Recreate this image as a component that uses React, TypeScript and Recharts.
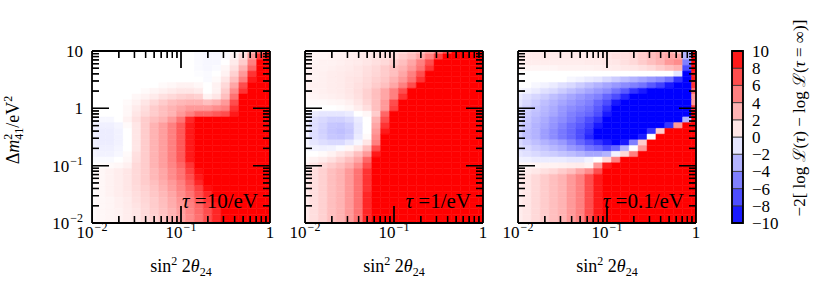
import React from "react";
import { ScatterChart, Scatter, XAxis, YAxis, ReferenceArea } from "recharts";

// log10 of the cell centres (cells are 0.1 decade wide, clipped at the frame)
const sin2Exp = [-2, -1.9, -1.8, -1.7, -1.6, -1.5, -1.4, -1.3, -1.2, -1.1, -1, -0.9, -0.8, -0.7, -0.6, -0.5, -0.4, -0.3, -0.2, -0.1, 0];
const dm2Exp = [1, 0.9, 0.8, 0.7, 0.6, 0.5, 0.4, 0.3, 0.2, 0.1, 0, -0.1, -0.2, -0.3, -0.4, -0.5, -0.6, -0.7, -0.8, -0.9, -1, -1.1, -1.2, -1.3, -1.4, -1.5, -1.6, -1.7, -1.8, -1.9, -2];

const xTicks = [0.01, 0.02, 0.03, 0.04, 0.05, 0.06, 0.07, 0.08, 0.09, 0.1, 0.2, 0.3, 0.4, 0.5, 0.6, 0.7, 0.8, 0.9, 1];
const yTicks = [0.01, 0.02, 0.03, 0.04, 0.05, 0.06, 0.07, 0.08, 0.09, 0.1, 0.2, 0.3, 0.4, 0.5, 0.6, 0.7, 0.8, 0.9, 1, 2, 3, 4, 5, 6, 7, 8, 9, 10];
const cbTicks = [10, 8, 6, 4, 2, 0, -2, -4, -6, -8, -10];
const cbEdges = [-10, -8, -6, -4, -2, 0, 2, 4, 6, 8, 10];

// -2[log L(tau) - log L(inf)], rows from dm2 = 10 (top) down to 0.01
const tau10 = [
  [0, 0, 0, 0, 0, 0, 0, 0, 0, 0, 0, 0, -0.2, -0.3, -0.3, -0.2, 0.3, 1, 3, 6, 9],
  [0, 0, 0, 0, 0, 0, 0, 0, 0, 0, 0, 0, -0.2, -0.3, -0.3, -0.2, 0.5, 1.5, 4, 8, 10],
  [0, 0, 0, 0, 0, 0, 0, 0, 0, 0, 0, 0, -0.2, -0.3, -0.3, 0, 0.8, 2, 5, 10, 10],
  [0, 0, 0, 0, 0, 0, 0, 0, 0, 0, 0, 0, -0.2, -0.3, -0.2, 0.3, 1.2, 3, 6, 10, 10],
  [0, 0, 0, 0, 0, 0, 0, 0, 0, 0, 0, 0, -0.1, -0.2, 0, 0.5, 1.8, 4, 8, 10, 10],
  [0, 0, 0, 0, 0, 0, 0, 0, 0, 0, 0, 0, 0, -0.2, 0.2, 1, 2.5, 5, 9, 10, 10],
  [0, 0, 0, 0, 0, 0, 0, 0, 0.2, 0.3, 0.5, 0.5, 0.3, 0, 0.5, 1.5, 3.5, 7, 10, 10, 10],
  [0, 0, 0, 0, 0, 0, 0.2, 0.4, 0.6, 0.8, 1, 1, 0.8, 0, 0.5, 2, 4.5, 8, 10, 10, 10],
  [0, 0, 0, 0, 0, 0.3, 0.5, 0.8, 1.2, 1.5, 1.8, 2, 1.8, 0.5, 1, 2.5, 5.5, 10, 10, 10, 10],
  [0, 0, 0, 0, 0.2, 0.5, 1, 1.5, 2, 2.5, 2.8, 3, 3, 2.5, 3, 4, 7, 10, 10, 10, 10],
  [0, 0, 0, 0, 0.3, 0.8, 1.3, 2, 2.5, 3, 3.5, 4, 4, 4, 4.5, 5, 8, 10, 10, 10, 10],
  [0, 0, 0, 0, 0.3, 1, 1.5, 2, 2.5, 3, 4, 5, 6, 6, 6.5, 7, 9, 10, 10, 10, 10],
  [-0.3, -0.3, -0.3, 0, 0.5, 1.2, 2, 2.5, 3, 4, 5.5, 8.5, 10, 10, 10, 10, 10, 10, 10, 10, 10],
  [-0.5, -0.6, -0.6, -0.4, 0.2, 1, 2, 3, 3.8, 5, 6.5, 9, 10, 10, 10, 10, 10, 10, 10, 10, 10],
  [-0.6, -0.7, -0.7, -0.5, 0, 1, 2, 3, 3.8, 5, 6.5, 9, 10, 10, 10, 10, 10, 10, 10, 10, 10],
  [-0.6, -0.7, -0.7, -0.5, 0, 1, 2, 3, 3.8, 5, 6.5, 9, 10, 10, 10, 10, 10, 10, 10, 10, 10],
  [-0.6, -0.7, -0.7, -0.5, 0, 1, 2, 3, 3.8, 5, 6.5, 9, 10, 10, 10, 10, 10, 10, 10, 10, 10],
  [-0.5, -0.6, -0.6, -0.4, 0, 1, 2, 3, 3.8, 5, 6.5, 9, 10, 10, 10, 10, 10, 10, 10, 10, 10],
  [-0.4, -0.5, -0.5, -0.3, 0.2, 1.2, 2, 3, 3.8, 5, 6.5, 9, 10, 10, 10, 10, 10, 10, 10, 10, 10],
  [-0.2, -0.2, -0.2, 0, 0.3, 1.3, 2, 3, 3.8, 5, 6.5, 9, 10, 10, 10, 10, 10, 10, 10, 10, 10],
  [0, 0.1, 0.2, 0.3, 0.6, 1.5, 2, 3, 3.8, 4.8, 6, 8, 10, 10, 10, 10, 10, 10, 10, 10, 10],
  [0.2, 0.3, 0.5, 0.7, 1, 1.5, 2, 2.8, 3.5, 4.5, 5.5, 7.5, 9.5, 10, 10, 10, 10, 10, 10, 10, 10],
  [0.2, 0.3, 0.5, 0.7, 1, 1.5, 2, 2.8, 3.5, 4.5, 5.5, 7, 9, 10, 10, 10, 10, 10, 10, 10, 10],
  [0.2, 0.3, 0.5, 0.7, 1, 1.5, 2, 2.5, 3.2, 4, 5, 6.5, 8.5, 10, 10, 10, 10, 10, 10, 10, 10],
  [0.2, 0.3, 0.5, 0.7, 1, 1.4, 1.8, 2.3, 3, 3.8, 4.8, 6, 7.5, 9.5, 10, 10, 10, 10, 10, 10, 10],
  [0.2, 0.3, 0.5, 0.7, 0.9, 1.3, 1.7, 2.2, 2.8, 3.5, 4.5, 5.5, 7, 8.5, 10, 10, 10, 10, 10, 10, 10],
  [0.2, 0.3, 0.4, 0.6, 0.8, 1.2, 1.6, 2, 2.6, 3.3, 4.2, 5.2, 6.5, 8, 9.5, 10, 10, 10, 10, 10, 10],
  [0.2, 0.3, 0.4, 0.6, 0.8, 1.1, 1.5, 2, 2.5, 3.2, 4, 5, 6, 7.5, 9, 10, 10, 10, 10, 10, 10],
  [0.2, 0.3, 0.4, 0.5, 0.7, 1, 1.4, 1.9, 2.4, 3, 3.8, 4.8, 5.8, 7, 8.5, 10, 10, 10, 10, 10, 10],
  [0.2, 0.3, 0.4, 0.5, 0.7, 1, 1.4, 1.8, 2.3, 3, 3.7, 4.6, 5.6, 7, 8.5, 10, 10, 10, 10, 10, 10],
  [0.2, 0.3, 0.4, 0.5, 0.7, 1, 1.4, 1.8, 2.3, 3, 3.7, 4.6, 5.6, 7, 8.5, 10, 10, 10, 10, 10, 10],
];

const tau1 = [
  [0.3, 0.3, 0.4, 0.4, 0.5, 0.5, 0.6, 0.7, 0.8, 1, 1.2, 1.5, 2, 2.5, 3.5, 5, 7, 10, 10, 10, 10],
  [0.3, 0.4, 0.4, 0.5, 0.5, 0.6, 0.7, 0.8, 1, 1.2, 1.5, 2, 2.5, 3.5, 5, 7.5, 10, 10, 10, 10, 10],
  [0.4, 0.4, 0.5, 0.5, 0.6, 0.7, 0.8, 1, 1.2, 1.5, 2, 2.5, 3.5, 5, 7, 10, 10, 10, 10, 10, 10],
  [0.4, 0.5, 0.5, 0.6, 0.7, 0.8, 1, 1.2, 1.5, 2, 2.5, 3, 4, 5.5, 8, 10, 10, 10, 10, 10, 10],
  [0.5, 0.5, 0.6, 0.7, 0.8, 0.9, 1, 1.3, 1.6, 2, 2.5, 3.5, 5, 7, 10, 10, 10, 10, 10, 10, 10],
  [0.5, 0.5, 0.6, 0.7, 0.8, 1, 1.1, 1.4, 1.8, 2.2, 3, 4, 5.5, 8, 10, 10, 10, 10, 10, 10, 10],
  [0.5, 0.6, 0.6, 0.7, 0.8, 1, 1.2, 1.5, 2, 2.5, 3.5, 5, 7, 10, 10, 10, 10, 10, 10, 10, 10],
  [0.4, 0.5, 0.6, 0.7, 0.8, 1, 1.3, 1.8, 2.5, 3.5, 5, 7, 10, 10, 10, 10, 10, 10, 10, 10, 10],
  [0.3, 0.4, 0.5, 0.6, 0.7, 0.9, 1.2, 1.8, 2.5, 3.5, 5, 8, 10, 10, 10, 10, 10, 10, 10, 10, 10],
  [0.1, 0.2, 0.2, 0.3, 0.4, 0.6, 1, 1.6, 2.5, 4, 7, 10, 10, 10, 10, 10, 10, 10, 10, 10, 10],
  [0, 0, 0, 0, 0.1, 0.3, 0.7, 1.3, 2.5, 4, 7.5, 10, 10, 10, 10, 10, 10, 10, 10, 10, 10],
  [-0.3, -0.8, -1, -1, -1, -0.8, 0, 0.3, 2, 6, 10, 10, 10, 10, 10, 10, 10, 10, 10, 10, 10],
  [-0.5, -1.2, -1.5, -1.8, -1.8, -1.5, -0.8, 0, 3, 7, 10, 10, 10, 10, 10, 10, 10, 10, 10, 10, 10],
  [-0.5, -1.3, -1.7, -2.2, -2.3, -2, -1, 0, 3.5, 8, 10, 10, 10, 10, 10, 10, 10, 10, 10, 10, 10],
  [-0.5, -1.3, -1.8, -2.3, -2.5, -2.2, -1, 0, 4, 9, 10, 10, 10, 10, 10, 10, 10, 10, 10, 10, 10],
  [-0.5, -1.3, -1.7, -2.2, -2.3, -2, -0.8, 0.2, 4.5, 10, 10, 10, 10, 10, 10, 10, 10, 10, 10, 10, 10],
  [-0.4, -1, -1.3, -1.5, -1.5, -1, -0.3, 1, 5, 10, 10, 10, 10, 10, 10, 10, 10, 10, 10, 10, 10],
  [-0.2, -0.5, -0.6, -0.5, -0.2, 0.3, 1, 2.5, 7, 10, 10, 10, 10, 10, 10, 10, 10, 10, 10, 10, 10],
  [0, 0, 0.2, 0.5, 1, 1.5, 2.5, 4, 9, 10, 10, 10, 10, 10, 10, 10, 10, 10, 10, 10, 10],
  [0.2, 0.5, 0.8, 1.2, 1.8, 2.5, 3.5, 6, 10, 10, 10, 10, 10, 10, 10, 10, 10, 10, 10, 10, 10],
  [0.6, 1, 1.5, 2, 2.5, 3.2, 4.5, 7, 10, 10, 10, 10, 10, 10, 10, 10, 10, 10, 10, 10, 10],
  [0.8, 1.3, 1.8, 2.5, 3, 4, 5.5, 8, 10, 10, 10, 10, 10, 10, 10, 10, 10, 10, 10, 10, 10],
  [0.8, 1.3, 1.8, 2.5, 3, 4, 5.5, 8, 10, 10, 10, 10, 10, 10, 10, 10, 10, 10, 10, 10, 10],
  [0.8, 1.3, 1.8, 2.5, 3, 4, 5.5, 8, 10, 10, 10, 10, 10, 10, 10, 10, 10, 10, 10, 10, 10],
  [0.8, 1.3, 1.8, 2.5, 3, 4, 5.5, 8, 10, 10, 10, 10, 10, 10, 10, 10, 10, 10, 10, 10, 10],
  [0.8, 1.3, 1.8, 2.5, 3, 4, 5.5, 8.5, 10, 10, 10, 10, 10, 10, 10, 10, 10, 10, 10, 10, 10],
  [0.8, 1.3, 1.8, 2.5, 3, 4, 5.5, 8.5, 10, 10, 10, 10, 10, 10, 10, 10, 10, 10, 10, 10, 10],
  [0.8, 1.3, 1.8, 2.5, 3, 4, 5.5, 8.5, 10, 10, 10, 10, 10, 10, 10, 10, 10, 10, 10, 10, 10],
  [0.8, 1.3, 1.8, 2.5, 3, 4, 5.5, 8.5, 10, 10, 10, 10, 10, 10, 10, 10, 10, 10, 10, 10, 10],
  [0.8, 1.3, 1.8, 2.5, 3, 4, 5.5, 8.5, 10, 10, 10, 10, 10, 10, 10, 10, 10, 10, 10, 10, 10],
  [0.8, 1.3, 1.8, 2.5, 3, 4, 5.5, 8.5, 10, 10, 10, 10, 10, 10, 10, 10, 10, 10, 10, 10, 10],
];

const tau01 = [
  [0.8, 0.8, 0.8, 0.8, 0.8, 0.8, 0.8, 0.8, 0.8, 0.9, 1, 1, 1.2, 1.5, 2, 2.5, 3, 3, 2, -3, 10],
  [0.8, 0.8, 0.8, 0.8, 0.8, 0.8, 0.8, 0.8, 0.8, 0.9, 1, 1.2, 1.3, 1.5, 2, 2.5, 3, 3.5, 3.5, -3, 10],
  [0.7, 0.7, 0.7, 0.7, 0.7, 0.7, 0.7, 0.7, 0.8, 0.8, 0.9, 1, 1.2, 1.5, 2, 2.5, 3, 4, 4.5, -5, 10],
  [0.4, 0.4, 0.4, 0.4, 0.4, 0.5, 0.5, 0.5, 0.5, 0.6, 0.7, 0.8, 0.9, 1, 1.2, 1.5, 2, 2.5, 3, -7, 10],
  [0, 0, 0, 0, 0, 0, 0, 0, 0, 0, 0, 0, 0, 0, 0, 0, 0, 0, -1, -10, 9],
  [0, 0, 0, 0, 0, 0, -0.3, -0.5, -0.8, -1, -1.5, -2, -2.5, -3, -3.5, -4, -4.5, -5.5, -8, -10, 9],
  [0, 0, -0.3, -0.5, -0.8, -1.2, -1.5, -2, -2.5, -3, -3.5, -4, -4.5, -5, -5.5, -6.5, -7.5, -9, -10, -10, 8],
  [-0.3, -0.5, -0.8, -1.2, -1.5, -2, -2.5, -3, -3.5, -4, -4.5, -5.5, -6.5, -8, -9, -10, -10, -10, -10, -10, 6],
  [-0.8, -1.2, -1.6, -2, -2.5, -3, -3.5, -4, -4.5, -5, -6, -7, -8.5, -10, -10, -10, -10, -10, -10, -10, 4],
  [-1, -1.5, -2, -2.5, -3, -3.5, -4, -4.5, -5, -6, -7, -9, -10, -10, -10, -10, -10, -10, -10, -10, 4],
  [-1.2, -1.8, -2.3, -2.8, -3.3, -4, -4.5, -5, -5.5, -6.5, -8, -10, -10, -10, -10, -10, -10, -10, -10, -10, 8],
  [-1.5, -2, -2.5, -3, -3.5, -4.2, -5, -5.5, -6, -7, -9, -10, -10, -10, -10, -10, -10, -10, -10, -10, 10],
  [-1.5, -2.2, -2.8, -3.3, -4, -4.5, -5.2, -6, -7, -8, -10, -10, -10, -10, -10, -10, -10, -10, -10, -3, 10],
  [-1.7, -2.3, -3, -3.5, -4.2, -5, -5.8, -6.5, -7.5, -9, -10, -10, -10, -10, -10, -10, -10, -8, 4, 10, 10],
  [-1.8, -2.5, -3, -3.8, -4.5, -5.3, -6, -7, -8, -10, -10, -10, -10, -10, -10, -8, 2, 10, 10, 10, 10],
  [-1.8, -2.5, -3, -3.8, -4.5, -5.3, -6, -7, -8.5, -10, -10, -10, -10, -10, -9, 0, 10, 10, 10, 10, 10],
  [-1.5, -2, -2.5, -3, -3.5, -4, -5, -6, -7, -8, -9, -10, -9, -5, 2, 10, 10, 10, 10, 10, 10],
  [-1.2, -1.5, -2, -2.3, -2.8, -3.2, -4, -4.5, -5.5, -6, -7, -6, -3, 0, 4, 10, 10, 10, 10, 10, 10],
  [-1, -1.2, -1.5, -1.8, -2, -2.3, -2.6, -3, -3.5, -3.5, -3, -0.5, 1.5, 5, 10, 10, 10, 10, 10, 10, 10],
  [-0.5, -0.6, -0.8, -0.8, -0.8, -0.8, -1, -1, -0.5, 0, 1.5, 5, 10, 10, 10, 10, 10, 10, 10, 10, 10],
  [0.3, 0.3, 0.4, 0.5, 0.5, 0.6, 0.7, 0.8, 0.5, 4, 9, 10, 10, 10, 10, 10, 10, 10, 10, 10, 10],
  [0.5, 0.7, 0.9, 1.2, 1.5, 2, 2.5, 3.5, 4.5, 7, 10, 10, 10, 10, 10, 10, 10, 10, 10, 10, 10],
  [0.7, 1, 1.5, 2, 2.5, 3, 4, 5, 7, 9, 10, 10, 10, 10, 10, 10, 10, 10, 10, 10, 10],
  [0.7, 1, 1.5, 2, 2.5, 3, 4, 5, 7, 9, 10, 10, 10, 10, 10, 10, 10, 10, 10, 10, 10],
  [0.7, 1, 1.5, 2, 2.5, 3, 4, 5, 7, 9, 10, 10, 10, 10, 10, 10, 10, 10, 10, 10, 10],
  [0.7, 1, 1.5, 2, 2.5, 3, 4, 5, 7, 9, 10, 10, 10, 10, 10, 10, 10, 10, 10, 10, 10],
  [0.7, 1, 1.5, 2, 2.5, 3, 4, 5, 7, 9, 10, 10, 10, 10, 10, 10, 10, 10, 10, 10, 10],
  [0.7, 1, 1.5, 2, 2.5, 3, 4, 5, 7, 9, 10, 10, 10, 10, 10, 10, 10, 10, 10, 10, 10],
  [0.7, 1, 1.5, 2, 2.5, 3, 4, 5, 7, 9, 10, 10, 10, 10, 10, 10, 10, 10, 10, 10, 10],
  [0.7, 1, 1.5, 2, 2.5, 3, 4, 5, 7, 9, 10, 10, 10, 10, 10, 10, 10, 10, 10, 10, 10],
  [0.7, 1, 1.5, 2, 2.5, 3, 4, 5, 7, 9, 10, 10, 10, 10, 10, 10, 10, 10, 10, 10, 10],
];

const tauLabels = ["10", "1", "0.1"];

const FONT = '"Liberation Serif", "DejaVu Serif", serif';
const X_LO = 0.01, X_HI = 1, Y_LO = 0.01, Y_HI = 10;
// plot box inside each panel svg
const PL = 92, PW = 178, PH = 172, PB = 223;
const MARGIN = { top: 41, right: 20, bottom: 19, left: 0 };
const FRAME = { stroke: "#000", strokeWidth: 1.8 };

// matplotlib "bwr", clipped at +-10
const bwr = (v: number) => {
  const t = Math.max(-1, Math.min(1, v / 10));
  if (t >= 0) {
    const g = Math.round(255 * (1 - t));
    return `rgb(255,${g},${g})`;
  }
  const g = Math.round(255 * (1 + t));
  return `rgb(${g},${g},255)`;
};

const buildCells = (rows: number[][]) =>
  rows.flatMap((row, r) =>
    row.map((v, c) => {
      const lx = sin2Exp[c], ly = dm2Exp[r];
      return {
        key: `${r}-${c}`,
        x: 10 ** lx,
        y: 10 ** ly,
        x1: Math.max(X_LO, 10 ** (lx - 0.05)),
        x2: Math.min(X_HI, 10 ** (lx + 0.05)),
        y1: Math.max(Y_LO, 10 ** (ly - 0.05)),
        y2: Math.min(Y_HI, 10 ** (ly + 0.05)),
        color: bwr(v),
      };
    })
  );

const isMajor = (v: number) => Math.abs(Math.log10(v) - Math.round(Math.log10(v))) < 1e-6;
const MAJOR = 17, MINOR = 7, TICK_W = 1.3;
// pixel lengths expressed in decades of each log axis
const decX = (px: number) => px / (PW / 2);
const decY = (px: number) => px / (PH / 3);

// inward ticks on all four sides, drawn as thin filled areas on top of the cells
const tickAreas = [
  ...xTicks.flatMap((v) => {
    const d = decY(isMajor(v) ? MAJOR : MINOR);
    const hw = 10 ** decX(TICK_W / 2);
    const x1 = Math.max(X_LO, v / hw), x2 = Math.min(X_HI, v * hw);
    return [
      { key: `xb${v}`, x1, x2, y1: Y_LO, y2: Y_LO * 10 ** d },
      { key: `xt${v}`, x1, x2, y1: Y_HI / 10 ** d, y2: Y_HI },
    ];
  }),
  ...yTicks.flatMap((v) => {
    const d = decX(isMajor(v) ? MAJOR : MINOR);
    const hh = 10 ** decY(TICK_W / 2);
    const y1 = Math.max(Y_LO, v / hh), y2 = Math.min(Y_HI, v * hh);
    return [
      { key: `yl${v}`, x1: X_LO, x2: X_LO * 10 ** d, y1, y2 },
      { key: `yr${v}`, x1: X_HI / 10 ** d, x2: X_HI, y1, y2 },
    ];
  }),
];

const PowLabel = ({ x, y, v, anchor }: { x: number; y: number; v: number; anchor: "start" | "middle" | "end" }) => {
  const e = Math.round(Math.log10(v));
  return (
    <text x={x} y={y} textAnchor={anchor} fontSize={17} fill="#000" fontFamily={FONT}>
      {e === 0 ? "1" : "10"}
      {e < 0 && (
        <tspan dx={1} dy={-7} fontSize={12}>
          {"\u2212" + -e}
        </tspan>
      )}
    </text>
  );
};

const BottomLabel = (p: any) =>
  isMajor(p.payload.value) ? <PowLabel x={p.x} y={p.y + 15} v={p.payload.value} anchor="middle" /> : <g />;

const LeftLabel = (p: any) =>
  isMajor(p.payload.value) ? <PowLabel x={p.x - 9} y={p.y + 6} v={p.payload.value} anchor="end" /> : <g />;

const XTitle = (tau: string) => () => (
  <g fontFamily={FONT} fill="#000">
    <text x={PL + PW / 2} y={272} textAnchor="middle" fontSize={18}>
      sin
      <tspan dy={-7} fontSize={12}>2</tspan>
      <tspan dy={7}> 2</tspan>
      <tspan fontStyle="italic">θ</tspan>
      <tspan dy={4} fontSize={12}>24</tspan>
    </text>
    <text x={PL + PW - 12} y={PB - 15} textAnchor="end" fontSize={21}>
      <tspan fontStyle="italic">τ</tspan>
      {` =${tau}/eV`}
    </text>
  </g>
);

const YTitle = () => (
  <text
    x={19}
    y={130}
    textAnchor="middle"
    fontSize={18}
    fontFamily={FONT}
    fill="#000"
    transform="rotate(-90 19 130)"
  >
    Δ<tspan fontStyle="italic">m</tspan>
    <tspan dy={-7} fontSize={12}>2</tspan>
    <tspan dx={-6} dy={11} fontSize={12}>41</tspan>
    <tspan dy={-4}>/eV</tspan>
    <tspan dy={-7} fontSize={12}>2</tspan>
  </text>
);

// both layers share the same axes sizes so the plot boxes coincide
const axesFor = (show: boolean, first: boolean, tau: string) => [
  <XAxis
    key="b"
    xAxisId="b"
    dataKey="x"
    type="number"
    scale="log"
    domain={[X_LO, X_HI]}
    allowDataOverflow
    ticks={xTicks}
    interval={0}
    height={50}
    tickSize={0}
    tickMargin={0}
    tickLine={false}
    tick={show ? BottomLabel : false}
    axisLine={show ? FRAME : false}
    label={show ? { content: XTitle(tau) } : undefined}
  />,
  <XAxis
    key="t"
    xAxisId="t"
    orientation="top"
    type="number"
    scale="log"
    domain={[X_LO, X_HI]}
    allowDataOverflow
    height={10}
    tick={false}
    tickLine={false}
    axisLine={show ? FRAME : false}
  />,
  <YAxis
    key="l"
    yAxisId="l"
    dataKey="y"
    type="number"
    scale="log"
    domain={[Y_LO, Y_HI]}
    allowDataOverflow
    ticks={yTicks}
    interval={0}
    width={PL}
    tickSize={0}
    tickMargin={0}
    tickLine={false}
    tick={show && first ? LeftLabel : false}
    axisLine={show ? FRAME : false}
    label={show && first ? { content: YTitle } : undefined}
  />,
  <YAxis
    key="r"
    yAxisId="r"
    orientation="right"
    type="number"
    scale="log"
    domain={[Y_LO, Y_HI]}
    allowDataOverflow
    width={20}
    tick={false}
    tickLine={false}
    axisLine={show ? FRAME : false}
  />,
];

const tickMarks = (prefix: string) =>
  tickAreas.map((t) => (
    <ReferenceArea
      key={prefix + t.key}
      xAxisId="b"
      yAxisId="l"
      x1={t.x1}
      x2={t.x2}
      y1={t.y1}
      y2={t.y2}
      fill="#000"
      fillOpacity={1}
      stroke="none"
      ifOverflow="visible"
    />
  ));

const Panel = ({ rows, tau, left, first }: { rows: number[][]; tau: string; left: number; first: boolean }) => {
  const cells = buildCells(rows);
  return (
    <div style={{ position: "absolute", left, top: 0, width: 310, height: 292 }}>
      <div style={{ position: "absolute", left: 0, top: 0, zIndex: 1 }}>
        <ScatterChart width={310} height={292} margin={MARGIN}>
          {cells.map((c) => (
            <ReferenceArea
              key={c.key}
              xAxisId="b"
              yAxisId="l"
              x1={c.x1}
              x2={c.x2}
              y1={c.y1}
              y2={c.y2}
              fill={c.color}
              fillOpacity={1}
              stroke={c.color}
              strokeWidth={0.5}
              ifOverflow="visible"
            />
          ))}
          {tickMarks("a")}
          <Scatter xAxisId="b" yAxisId="l" data={cells} isAnimationActive={false} shape={() => <g />} />
          {axesFor(false, first, tau)}
        </ScatterChart>
      </div>
      <div style={{ position: "absolute", left: 0, top: 0, zIndex: 2 }}>
        <ScatterChart width={310} height={292} margin={MARGIN}>
          {tickMarks("b")}
          <Scatter xAxisId="b" yAxisId="l" data={cells} isAnimationActive={false} shape={() => <g />} />
          {axesFor(true, first, tau)}
        </ScatterChart>
      </div>
    </div>
  );
};

const cbBands = cbEdges.slice(0, -1).map((lo, i) => ({ x: 0.5, y: (lo + cbEdges[i + 1]) / 2, lo, hi: cbEdges[i + 1] }));

const CbTick = (p: any) => (
  <text x={p.x + 9} y={p.y + 6} textAnchor="start" fontSize={17} fontFamily={FONT} fill="#000">
    {p.payload.value < 0 ? "\u2212" + -p.payload.value : String(p.payload.value)}
  </text>
);

const CbTitle = () => (
  <text x={105} y={118} textAnchor="middle" fontSize={17} fontFamily={FONT} fill="#000" transform="rotate(-90 105 118)">
    {"\u22122[ log ℒ("}
    <tspan fontStyle="italic">τ</tspan>
    {") \u2212 log ℒ("}
    <tspan fontStyle="italic">τ</tspan>
    {" = ∞)]"}
  </text>
);

const Colorbar = () => (
  <div style={{ position: "absolute", left: 700, top: 0, zIndex: 3 }}>
    <ScatterChart width={131} height={292} margin={{ top: 51, right: 0, bottom: 69, left: 32 }}>
      {cbBands.map((b) => (
        <ReferenceArea
          key={b.lo}
          xAxisId="cx"
          yAxisId="cy"
          x1={0}
          x2={1}
          y1={b.lo}
          y2={b.hi}
          fill={bwr(b.y)}
          fillOpacity={1}
          stroke="#333"
          strokeWidth={0.8}
          ifOverflow="visible"
        />
      ))}
      <ReferenceArea
        xAxisId="cx"
        yAxisId="cy"
        x1={0}
        x2={1}
        y1={-10}
        y2={10}
        fill="none"
        stroke="#000"
        strokeWidth={1.8}
        ifOverflow="visible"
      />
      <Scatter xAxisId="cx" yAxisId="cy" data={cbBands} isAnimationActive={false} shape={() => <g />} />
      <XAxis xAxisId="cx" dataKey="x" type="number" domain={[0, 1]} allowDataOverflow hide />
      <YAxis
        yAxisId="cy"
        dataKey="y"
        orientation="right"
        type="number"
        domain={[-10, 10]}
        allowDataOverflow
        ticks={cbTicks}
        interval={0}
        width={88}
        axisLine={false}
        tickLine={false}
        tickSize={0}
        tickMargin={0}
        tick={CbTick}
        label={{ content: CbTitle }}
      />
    </ScatterChart>
  </div>
);

export default function App() {
  const data = [tau10, tau1, tau01];
  const lefts = [0, 213, 426];
  return (
    <div style={{ position: "absolute", left: 0, top: 0, width: 831, height: 292, background: "#fff", overflow: "hidden" }}>
      {data.map((rows, i) => (
        <Panel key={i} rows={rows} tau={tauLabels[i]} left={lefts[i]} first={i === 0} />
      ))}
      <Colorbar />
    </div>
  );
}
